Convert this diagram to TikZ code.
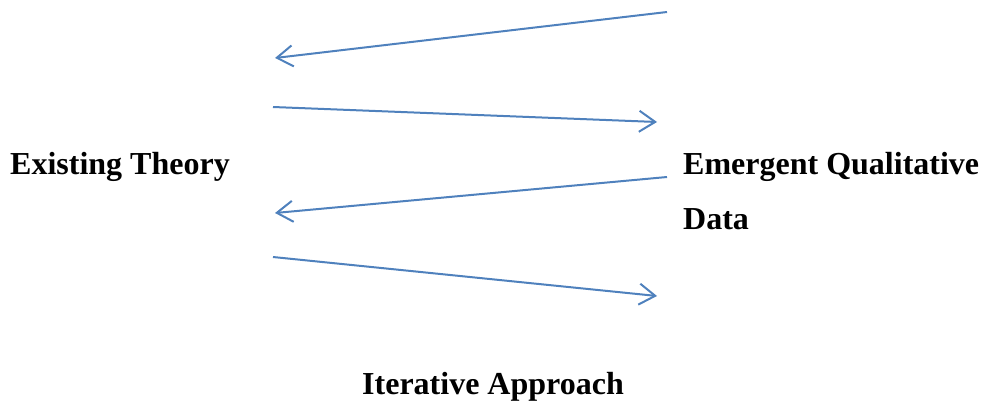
\documentclass[tikz,border=0pt]{standalone}
\usepackage{fontspec}
\setmainfont{Liberation Serif}
\usetikzlibrary{arrows.meta,positioning}
\definecolor{linkblue}{RGB}{79,129,189}

\begin{document}
\begin{tikzpicture}[
				x=1pt, y=-1pt,
				label/.style={font=\bfseries\fontsize{32}{55}\selectfont, inner sep=0pt, align=left},
				link/.style={draw=linkblue, line width=2pt, -{Straight Barb[length=16pt, width=21pt, line width=2pt]}},
				]
				\useasboundingbox (0,0) rectangle (987,401);
				\node[label, anchor=base west] (theory) at (10,174) {Existing Theory};
				\node[label, anchor=base west] (data) at (683,229) {Emergent Qualitative\\Data};
				\node[label, anchor=base] (iter) at (493,394) {Iterative Approach};
				
				\coordinate (r1) at (667,12);
				\coordinate (l1) at (275,58);
				\coordinate (l2) at (273,107);
				\coordinate (r2) at (657,122);
				\coordinate (r3) at (667,177);
				\coordinate (l3) at (275,213);
				\coordinate (l4) at (273,257);
				\coordinate (r4) at (657,296);
				
				\draw[link] (r1) -- (l1);
				\draw[link] (l2) -- (r2);
				\draw[link] (r3) -- (l3);
				\draw[link] (l4) -- (r4);
			\end{tikzpicture}
\end{document}
